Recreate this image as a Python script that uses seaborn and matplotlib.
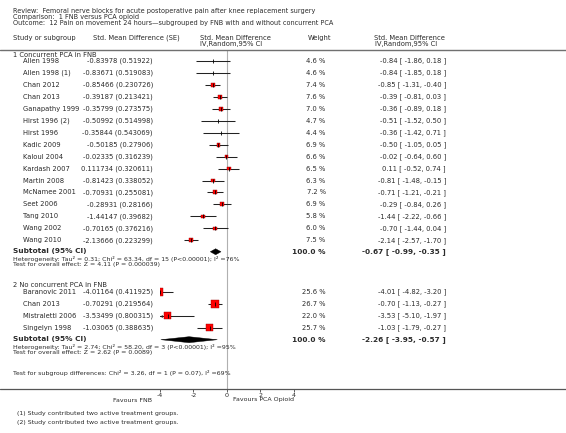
import numpy as np
import pandas as pd
import matplotlib
matplotlib.use("Agg")
import matplotlib.pyplot as plt
import seaborn as sns
from matplotlib.lines import Line2D
from matplotlib.patches import Polygon

W, H = 566, 433
sns.set_theme(style="white")
plt.rcParams['font.family'] = ['DejaVu Sans']

# ---------------- data ----------------
g1_names = ["Allen 1998", "Allen 1998 (1)", "Chan 2012", "Chan 2013", "Ganapathy 1999",
            "Hirst 1996 (2)", "Hirst 1996", "Kadic 2009", "Kaloul 2004", "Kardash 2007",
            "Martin 2008", "McNamee 2001", "Seet 2006", "Tang 2010", "Wang 2002", "Wang 2010"]
g1_est = ["-0.83978", "-0.83671", "-0.85466", "-0.39187", "-0.35799", "-0.50992", "-0.35844",
          "-0.50185", "-0.02335", "0.111734", "-0.81423", "-0.70931", "-0.28931", "-1.44147",
          "-0.70165", "-2.13666"]
g1_se = ["0.51922", "0.519083", "0.230726", "0.213421", "0.273575", "0.514998", "0.543069",
         "0.27906", "0.316239", "0.320611", "0.338052", "0.255081", "0.28166", "0.39682",
         "0.376216", "0.223299"]
g1_weight = [4.6, 4.6, 7.4, 7.6, 7.0, 4.7, 4.4, 6.9, 6.6, 6.5, 6.3, 7.2, 6.9, 5.8, 6.0, 7.5]
g1_lo = [-1.86, -1.85, -1.31, -0.81, -0.89, -1.52, -1.42, -1.05, -0.64, -0.52, -1.48, -1.21,
         -0.84, -2.22, -1.44, -2.57]
g1_hi = [0.18, 0.18, -0.40, 0.03, 0.18, 0.50, 0.71, 0.05, 0.60, 0.74, -0.15, -0.21, 0.26,
         -0.66, 0.04, -1.70]
g1_total = [-0.67, -0.99, -0.35]

g2_names = ["Baranovic 2011", "Chan 2013", "Mistraletti 2006", "Singelyn 1998"]
g2_est = ["-4.01164", "-0.70291", "-3.53499", "-1.03065"]
g2_se = ["0.411925", "0.219564", "0.800315", "0.388635"]
g2_weight = [25.6, 26.7, 22.0, 25.7]
g2_lo = [-4.82, -1.13, -5.10, -1.79]
g2_hi = [-3.20, -0.27, -1.97, -0.27]
g2_total = [-2.26, -3.95, -0.57]

x_ticks = [-4, -2, 0, 2, 4]

title_lines = ["Review:  Femoral nerve blocks for acute postoperative pain after knee replacement surgery",
               "Comparison:  1 FNB versus PCA opioid",
               "Outcome:  12 Pain on movement 24 hours\u2014subgrouped by FNB with and without concurrent PCA"]
g1_label = "1 Concurrent PCA in FNB"
g2_label = "2 No concurrent PCA in FNB"
g1_het = "Heterogeneity: Tau\u00b2 = 0.31; Chi\u00b2 = 63.34, df = 15 (P<0.00001); I\u00b2 =76%"
g1_test = "Test for overall effect: Z = 4.11 (P = 0.000039)"
g2_het = "Heterogeneity: Tau\u00b2 = 2.74; Chi\u00b2 = 58.20, df = 3 (P<0.00001); I\u00b2 =95%"
g2_test = "Test for overall effect: Z = 2.62 (P = 0.0089)"
sub_diff = "Test for subgroup differences: Chi\u00b2 = 3.26, df = 1 (P = 0.07), I\u00b2 =69%"
footnotes = ["(1) Study contributed two active treatment groups.",
             "(2) Study contributed two active treatment groups."]

# ---------------- layout (pixels from top) ----------------
TXT = "#2a2a2a"
ROW = 11.95
y_g1_head = 55
y_g1 = [61 + ROW * i for i in range(len(g1_names))]
y_g1_sub = y_g1[-1] + 11.5
y_g2_head = 285
y_g2 = [292 + 11.9 * i for i in range(len(g2_names))]
y_g2_sub = y_g2[-1] + 12
y_axis = 389
y_top_line = 49.5

fig = plt.figure(figsize=(W / 100, H / 100), dpi=100)
fig.patch.set_facecolor("white")

X0, X1 = 160, 293.7
ax = fig.add_axes([X0 / W, 1 - y_axis / H, (X1 - X0) / W, (y_axis - y_top_line) / H])
ax.set_facecolor("none")


def txt(x, y, s, ha="left", size=4.9, weight="normal", va="center"):
    fig.text(x / W, 1 - y / H, s, ha=ha, va=va, fontsize=size, fontweight=weight, color=TXT)


# full-width rules
fig.add_artist(Line2D([0, 1], [1 - y_top_line / H] * 2, transform=fig.transFigure,
                      color="#707070", lw=1.0))
fig.add_artist(Line2D([0, 1], [1 - y_axis / H] * 2, transform=fig.transFigure,
                      color="#555555", lw=0.9))

# title / headers
for i, line in enumerate(title_lines):
    txt(13, 10.5 + 6.5 * i, line, size=4.7)
txt(13, 38, "Study or subgroup")
txt(93, 38, "Std. Mean Difference (SE)")
txt(200, 38, "Std. Mean Difference")
txt(200, 44, "IV,Random,95% CI")
txt(320, 38, "Weight", ha="center")
txt(374, 38, "Std. Mean Difference")
txt(375, 44, "IV,Random,95% CI")


def draw_group(names, est_s, se_s, weights, lo, hi, ys):
    est = [float(e) for e in est_s]
    df = pd.DataFrame({"est": est, "y": ys, "w": weights, "lo": lo, "hi": hi})
    ax.hlines(df["y"], df["lo"], df["hi"], color="#222222", lw=0.75, zorder=2)
    clipped = df[df["lo"] < -4]
    if len(clipped):
        ax.scatter(np.full(len(clipped), -4.0) + 0.08, clipped["y"], marker="<", s=4,
                   color="#222222", lw=0, zorder=3, clip_on=False)
    big = df[df["w"] >= 5]
    sns.scatterplot(data=big, x="est", y="y", marker="s", s=big["w"] * 1.1,
                    color="#ff0000", edgecolor="#990000", linewidth=0.3, ax=ax,
                    zorder=4, legend=False)
    ax.scatter(df["est"], df["y"], marker="|", s=8, color="black", linewidths=0.6, zorder=5)
    for n, e, s, w, l, h, yy, ev in zip(names, est_s, se_s, weights, lo, hi, ys, est):
        txt(23, yy, n)
        txt(153, yy, f"{e} ({s})", ha="right")
        txt(325.7, yy, f"{w:.1f} %", ha="right")
        txt(446, yy, f"{ev:.2f} [ {l:.2f}, {h:.2f} ]", ha="right")


def draw_total(total, y, het, test):
    e, l, h = total
    ax.add_patch(Polygon([(l, y), (e, y - 3), (h, y), (e, y + 3)], closed=True,
                         facecolor="black", edgecolor="black", lw=0.3, zorder=4))
    txt(13, y - 0.5, "Subtotal (95% CI)", size=5.3, weight="bold")
    txt(325.7, y, "100.0 %", ha="right", size=5.3, weight="bold")
    txt(446, y, f"{e:.2f} [ {l:.2f}, {h:.2f} ]", ha="right", size=5.3, weight="bold")
    txt(13, y + 7, het, size=4.5)
    txt(13, y + 13, test, size=4.5)


txt(13, y_g1_head, g1_label)
draw_group(g1_names, g1_est, g1_se, g1_weight, g1_lo, g1_hi, y_g1)
draw_total(g1_total, y_g1_sub, g1_het, g1_test)

txt(13, y_g2_head, g2_label)
draw_group(g2_names, g2_est, g2_se, g2_weight, g2_lo, g2_hi, y_g2)
draw_total(g2_total, y_g2_sub, g2_het, g2_test)

ax.axvline(0, color="#b0b0b0", lw=0.8, zorder=0)
ax.set_xlim(-4, 4)
ax.set_ylim(y_axis, y_top_line)
for s in ax.spines.values():
    s.set_visible(False)
ax.set_xlabel("")
ax.set_ylabel("")
ax.set_yticks([])
ax.set_xticks(x_ticks)
ax.set_xticklabels([str(t) for t in x_ticks])
ax.tick_params(axis="x", bottom=True, length=2, width=0.6, color="#444444",
               labelsize=4.6, labelcolor=TXT, pad=0.6)

txt(13, 373.5, sub_diff, size=4.5)

txt(152, 400, "Favours FNB", ha="right", size=4.5)
txt(233, 400, "Favours PCA Opioid", ha="left", size=4.5)

txt(17, 413.5, footnotes[0], size=4.5)
txt(17, 422.5, footnotes[1], size=4.5)

fig.savefig("out.png", dpi=100, facecolor="white")
